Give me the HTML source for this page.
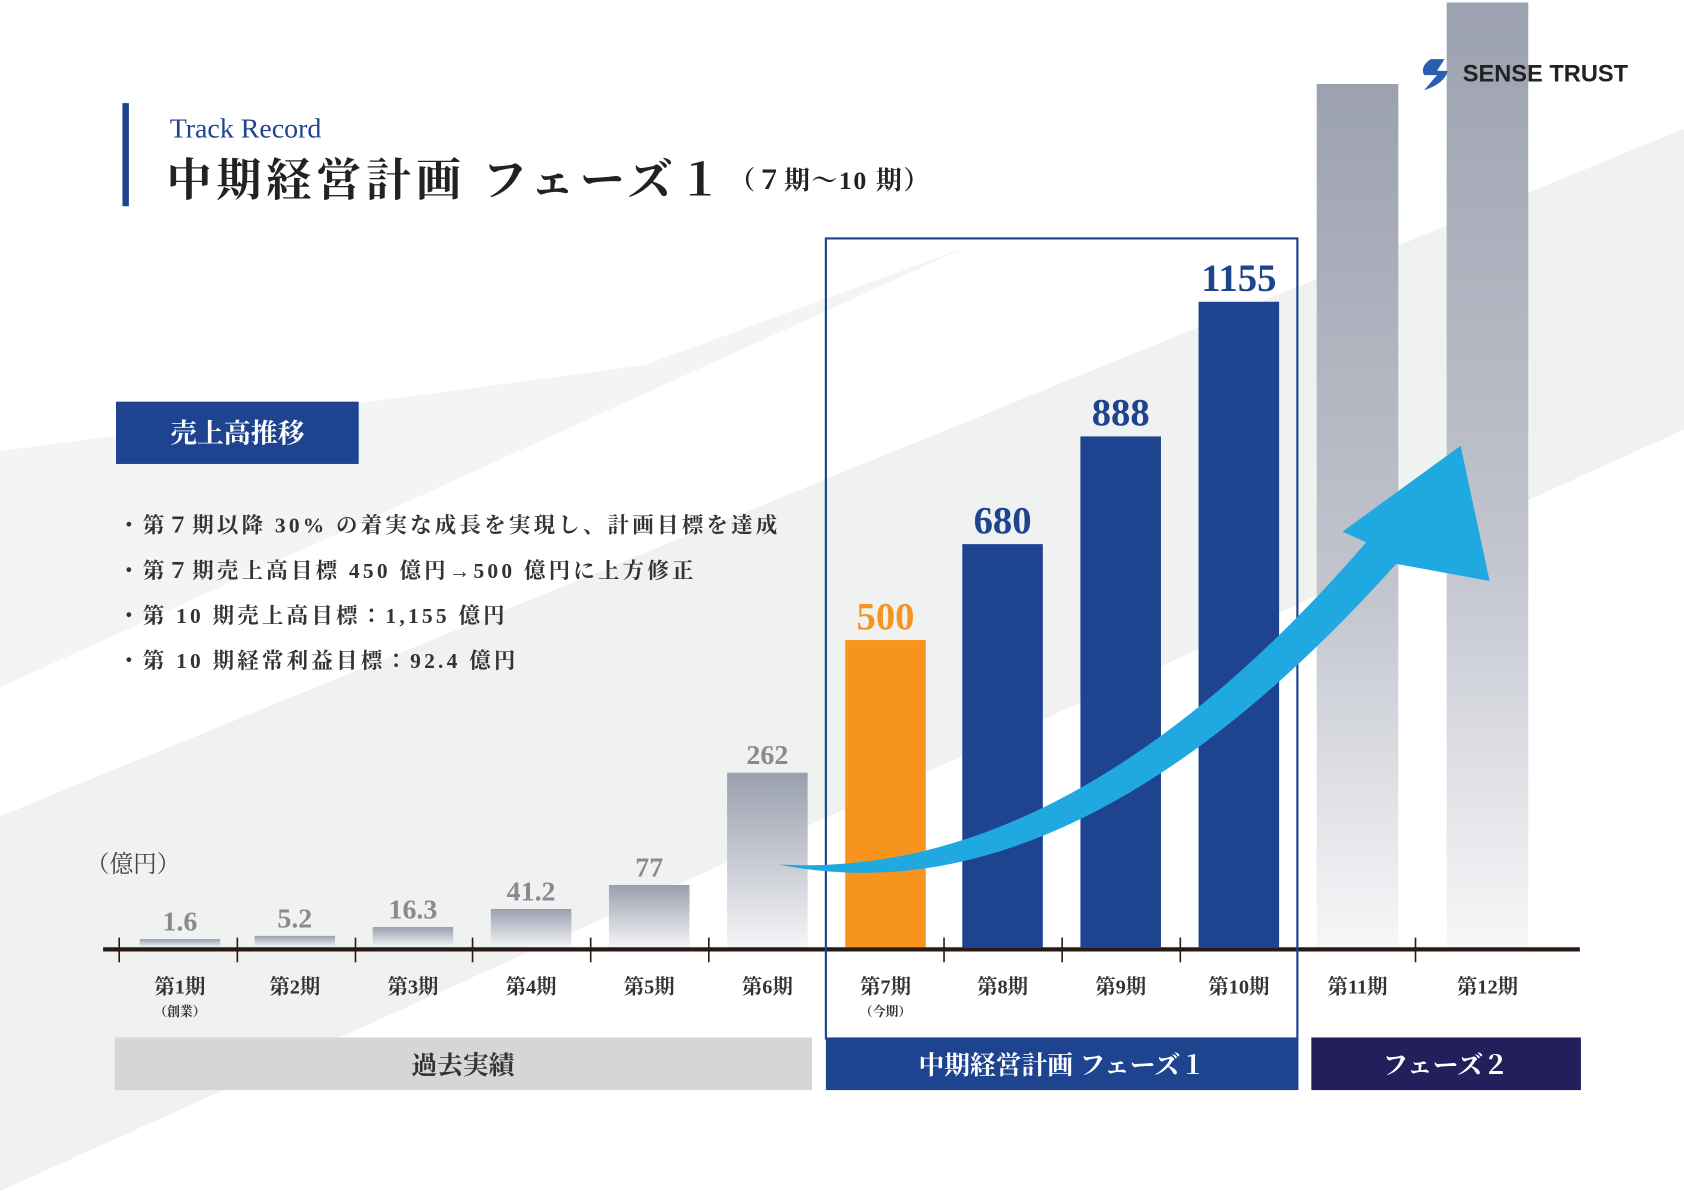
<!DOCTYPE html>
<html><head><meta charset="utf-8">
<style>
html,body{margin:0;padding:0;width:1684px;height:1191px;overflow:hidden;background:#fff}
#wrap{position:absolute;left:0;top:0;width:1568px;height:1109px;transform:scale(1.07398);transform-origin:0 0}
.s{font-family:"Liberation Serif","Noto Serif CJK JP",serif}
</style></head><body>
<div id="wrap">
<svg id="chart" width="1568" height="1109" viewBox="0 0 1568 1109" xmlns="http://www.w3.org/2000/svg">
<defs>
<linearGradient id="gPast" x1="0" y1="0" x2="0" y2="1"><stop offset="0" stop-color="#9a9fae"/><stop offset="1" stop-color="#f4f5f7"/></linearGradient>
<linearGradient id="gFut" x1="0" y1="0" x2="0" y2="1"><stop offset="0" stop-color="#9ca1af"/><stop offset="0.6" stop-color="#c3c6cf"/><stop offset="1" stop-color="#f6f7f8"/></linearGradient>
</defs>
<g>
<polygon points="0,760 1568,120 1568,400 0,1109" fill="#f0f1f1"/>
<polygon points="0,420 600,340 900,230 0,640" fill="#f3f4f4"/>
</g>
<g id="bars"></g>
<g id="labels"></g>
<line x1="96" y1="884" x2="1471" y2="884" stroke="#2a1a14" stroke-width="4"/>
<g id="ticks"></g>
<rect x="769" y="222" width="439" height="745" fill="none" stroke="#1e4490" stroke-width="2"/>
<path d="M725,805 Q1000,860 1300,525 L1387,541 L1360,415 L1250,495 L1272,505 Q1000,820 725,805 Z" fill="#1fa9e0"/>
<text x="80" y="812" class="s" font-size="22" fill="#444">（億円）</text>
<rect x="107" y="966" width="649" height="49" fill="#d5d6d8"/>
<text x="431" y="1000" class="s" font-size="24" font-weight="bold" fill="#333" text-anchor="middle">過去実績</text>
<rect x="769" y="966" width="440" height="49" fill="#1e4490"/>
<text x="989" y="1000" class="s" font-size="24" font-weight="bold" fill="#fff" text-anchor="middle">中期経営計画 フェーズ１</text>
<rect x="1221" y="966" width="251" height="49" fill="#231f5c"/>
<text x="1346" y="1000" class="s" font-size="24" font-weight="bold" fill="#fff" text-anchor="middle">フェーズ２</text>
<rect x="114" y="96" width="6" height="96" fill="#1e4490"/>
<text x="158" y="128" class="s" font-size="26" fill="#1e4490">Track Record</text>
<text x="155" y="182" class="s" font-size="42" font-weight="bold" fill="#222" letter-spacing="4.5">中期経営計画 フェーズ１<tspan font-size="24" letter-spacing="1.5" dx="2" dy="-6">（７期〜10 期）</tspan></text>
<rect x="108" y="374" width="226" height="58" fill="#1e4490"/>
<text x="221" y="412" class="s" font-size="25" font-weight="bold" fill="#fff" text-anchor="middle">売上高推移</text>
<g class="s" font-size="20" font-weight="bold" fill="#333" letter-spacing="3">
<text x="110" y="496">・第７期以降 30% の着実な成長を実現し、計画目標を達成</text>
<text x="110" y="538">・第７期売上高目標 450 億円→500 億円に上方修正</text>
<text x="110" y="580">・第 10 期売上高目標：1,155 億円</text>
<text x="110" y="622">・第 10 期経常利益目標：92.4 億円</text>
</g>
<g>
<path d="M1345,55 L1332,55 Q1322,62 1326,70 L1338,70 L1326,84 Q1345,78 1348,66 L1338,66 Z" fill="#2a5fb0"/>
<text x="1362" y="76" font-family="Liberation Sans,sans-serif" font-size="22" font-weight="bold" fill="#222">SENSE TRUST</text>
</g>
</svg>
</div>
<script>
const categories=["第1期","第2期","第3期","第4期","第5期","第6期","第7期","第8期","第9期","第10期","第11期","第12期"];
const subLabels=["（創業）","","","","","","（今期）","","","","",""];
const revenue=[1.6,5.2,16.3,41.2,77,262,500,680,888,1155,1600,1770];
const valueLabels=["1.6","5.2","16.3","41.2","77","262","500","680","888","1155","",""];
const barKinds=["past","past","past","past","past","past","current","plan","plan","plan","future","future"];
const NS="http://www.w3.org/2000/svg";
const baseY=882;
const barX=[130,237,347,457,567,677,787,896,1006,1116,1226,1347];
function yScale(v){return 6+595*Math.pow(v/1155,0.9);}
function mk(t,a){const e=document.createElementNS(NS,t);for(const k in a)e.setAttribute(k,a[k]);return e;}
const fills={past:"url(#gPast)",current:"#f7941d",plan:"#1e4490",future:"url(#gFut)"};
const lcol={past:"#8a8a8e",current:"#f7941d",plan:"#1e4490",future:"#888"};
const gb=document.getElementById('bars'),gl=document.getElementById('labels'),gt=document.getElementById('ticks');
revenue.forEach((v,i)=>{
 const h=yScale(v),w=(i>=10?76:75);
 const r=mk('rect',{x:barX[i],y:baseY-h,width:w,height:h,fill:fills[barKinds[i]]});
 
 
 gb.appendChild(r);
 if(valueLabels[i]){
  const big=barKinds[i]==='current'||barKinds[i]==='plan';
  const t=mk('text',{x:barX[i]+w/2,y:baseY-h-(big?10:8),'text-anchor':'middle','class':'s','font-size':big?36:26,'font-weight':'bold',fill:lcol[barKinds[i]]});
  t.textContent=valueLabels[i];
  
  
  gl.appendChild(t);
 }
 const c=mk('text',{x:barX[i]+w/2,y:925,'text-anchor':'middle','class':'s','font-size':19,'font-weight':'bold',fill:'#333'});
 c.textContent=categories[i];
 
 
 gl.appendChild(c);
 if(subLabels[i]){
  const s=mk('text',{x:barX[i]+w/2,y:946,'text-anchor':'middle','class':'s','font-size':12,'font-weight':'bold',fill:'#333'});
  s.textContent=subLabels[i];
  
  
  gl.appendChild(s);
 }
});
[111,221,331,440,550,660,879,989,1099,1318].forEach((x,i)=>{
 const l=mk('line',{x1:x,y1:873,x2:x,y2:896,stroke:'#2a1a14','stroke-width':1.5});
 
 
 gt.appendChild(l);
});
</script>
</body></html>
